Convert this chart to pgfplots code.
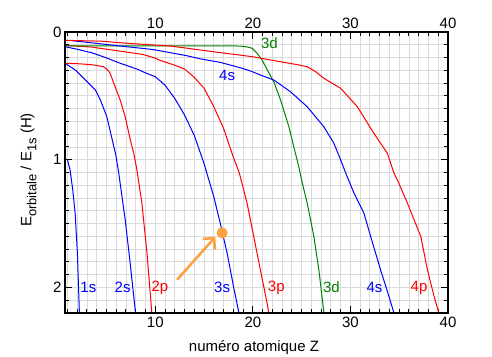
\documentclass[border=0pt]{standalone}
\usepackage{fontspec}
\setmainfont{Liberation Sans}
\usepackage{pgfplots}
\pgfplotsset{compat=1.18}
\usetikzlibrary{arrows.meta}
\definecolor{cblue}{RGB}{0,0,255}
\definecolor{cred}{RGB}{255,0,0}
\definecolor{cgreen}{RGB}{0,128,0}
\definecolor{corange}{RGB}{255,160,64}
\definecolor{cgrid}{RGB}{218,218,218}
\newcommand\subs[1]{\raisebox{-5pt}{\fontsize{13}{15}\selectfont #1}}
\begin{document}
\begin{tikzpicture}[font=\fontsize{15}{18}\selectfont]
\begin{axis}[
  at={(0pt,0pt)}, anchor=south west,
  scale only axis, width=383pt, height=281pt,
  xmin=0.75, xmax=40, ymin=0, ymax=2.2, y dir=reverse,
  xtick={10,20,30,40}, minor xtick={1,2,...,40},
  ytick={0,1,2}, minor ytick={0.1,0.2,...,2.2},
  grid=both,
  major grid style={cgrid, line width=0.9pt},
  minor grid style={cgrid, line width=0.9pt},
  major tick length=7pt, minor tick length=4pt,
  tick style={black, line width=1pt},
  axis line style={black, line width=1.4pt},
  xticklabel pos=left,
  /pgf/number format/assume math mode=true,
  ticklabel style={font=\fontsize{15}{18}\selectfont},
  every axis plot/.append style={line width=1pt},
  clip=true,
]
% 1s
\addplot[cblue] coordinates {(1.0,1.0) (1.27,1.08) (1.55,1.24) (1.79,1.42) (2.02,1.73) (2.23,2.21)};
% 2s
\addplot[cblue] coordinates {(0.75,0.245) (1.82,0.298) (2.84,0.376) (3.87,0.455) (4.38,0.533) (5.04,0.664) (5.55,0.83) (5.95,0.96) (6.25,1.1) (6.92,1.47) (7.43,1.81) (7.95,2.18) (8.0,2.21)};
% 2p
\addplot[cred] coordinates {(0.75,0.245) (2,0.248) (3.33,0.255) (4.0,0.262) (4.69,0.272) (5.1,0.295) (5.38,0.324) (5.89,0.43) (6.41,0.533) (6.92,0.664) (7.43,0.84) (7.8,0.95) (8.12,1.08) (8.63,1.34) (9.15,1.73) (9.66,2.21)};
% 3s
\addplot[cblue] coordinates {(0.75,0.115) (2,0.135) (3.6,0.165) (4.9,0.2) (6.41,0.245) (8.12,0.29) (9,0.32) (10,0.35) (11,0.416) (12,0.52) (13,0.65) (14,0.81) (15,1.03) (15.5,1.16) (16,1.29) (16.67,1.5) (17.36,1.73) (18.04,2.0) (18.6,2.21)};
% 3p
\addplot[cred] coordinates {(0.75,0.105) (3.5,0.118) (6.4,0.15) (8.67,0.175) (9.83,0.2) (10.5,0.222) (11.2,0.24) (12,0.26) (13,0.29) (14,0.355) (15,0.44) (16,0.585) (17,0.755) (18,0.98) (18.6,1.1) (19.41,1.34) (20.09,1.60) (20.78,1.865) (21.47,2.126) (21.65,2.21)};
% 3d
\addplot[cgreen] coordinates {(0.75,0.108) (18.0,0.108) (19.0,0.112) (19.5,0.118) (19.93,0.128) (20.44,0.167) (20.95,0.22) (21.5,0.3) (22.15,0.39) (22.83,0.53) (23.69,0.74) (24.2,0.90) (24.71,1.056) (25.0,1.16) (25.57,1.34) (26.25,1.60) (26.77,1.865) (27.3,2.21)};
% 4s
\addplot[cblue] coordinates {(1.48,0.068) (4.56,0.094) (6.41,0.11) (8.67,0.128) (9.83,0.138) (13.25,0.186) (14.6,0.21) (16.67,0.238) (18.73,0.28) (19.93,0.31) (20.78,0.337) (22.15,0.376) (23.35,0.44) (23.86,0.468) (25.57,0.585) (27.28,0.742) (28.31,0.872) (28.99,1.0) (29.6,1.12) (30.36,1.26) (31.39,1.42) (32.07,1.60) (33.1,1.865) (33.95,2.07) (34.5,2.21)};
% 4p
\addplot[cred] coordinates {(0.75,0.065) (4.56,0.072) (6.41,0.084) (8.67,0.096) (11.54,0.11) (13.08,0.125) (16.67,0.162) (19.93,0.193) (22.83,0.233) (24.5,0.255) (25.57,0.272) (26.43,0.31) (27.28,0.363) (28.99,0.44) (30.71,0.585) (32.41,0.794) (33.79,0.95) (34.47,1.107) (34.82,1.16) (35.84,1.34) (36.52,1.47) (37.21,1.60) (37.9,1.865) (38.57,2.07) (39.1,2.21)};
% arrow and point
\addplot[corange, line width=2.5pt, -{Straight Barb[length=8pt,width=16pt]}] coordinates {(12.23,1.94) (16.16,1.604)};
\addplot[only marks, mark=*, mark size=5pt, corange] coordinates {(16.85,1.573)};
% labels
\node[cblue] at (axis cs:3.15,2.0) {1s};
\node[cblue] at (axis cs:6.66,2.0) {2s};
\node[cred] at (axis cs:10.48,2.0) {2p};
\node[cblue] at (axis cs:16.85,2.0) {3s};
\node[cred] at (axis cs:22.4,2.0) {3p};
\node[cgreen] at (axis cs:28.05,2.0) {3d};
\node[cblue] at (axis cs:32.46,2.0) {4s};
\node[cred] at (axis cs:37.03,2.0) {4p};
\node[cgreen] at (axis cs:21.7,0.09) {3d};
\node[cblue] at (axis cs:17.36,0.343) {4s};
\end{axis}
\begin{axis}[
  at={(0pt,0pt)}, anchor=south west,
  scale only axis, width=383pt, height=281pt,
  xmin=0.75, xmax=40, ymin=0, ymax=2.2, y dir=reverse,
  xtick={10,20,30,40}, ytick=\empty,
  xticklabel pos=right,
  major tick length=0pt,
  axis line style={black, line width=1.4pt},
  /pgf/number format/assume math mode=true,
  ticklabel style={font=\fontsize{15}{18}\selectfont},
]
\end{axis}
\node[anchor=base] at (189pt,-38.7pt) {numéro atomique Z};
\node[rotate=90, anchor=center] at (-36.5pt,143pt) {E\subs{orbitale} / E\subs{1s} (H)};
\pgfresetboundingbox
\path[use as bounding box] (-65pt,-43pt) rectangle (427pt,313pt);
\end{tikzpicture}
\end{document}
